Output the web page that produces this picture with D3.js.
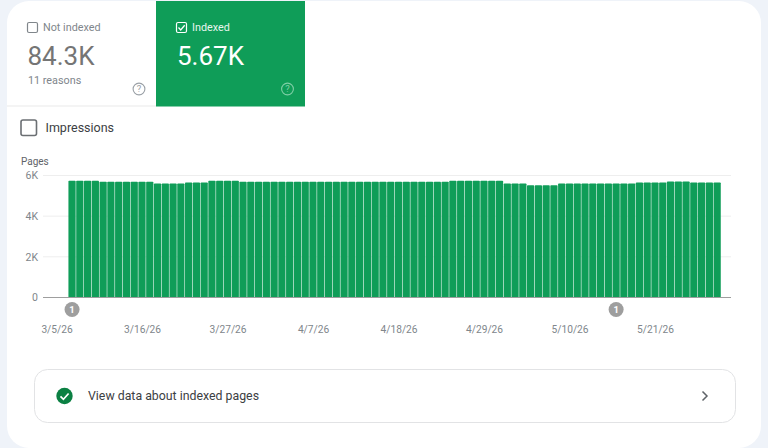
<!DOCTYPE html>
<html>
<head>
<meta charset="utf-8">
<style>
html,body{margin:0;padding:0;background:#eff3f9;}
svg{display:block;font-family:Roboto,sans-serif;}
</style>
<script src="https://cdnjs.cloudflare.com/ajax/libs/d3/7.8.5/d3.min.js"></script>
</head>
<body>
<svg id="chart" width="768" height="448"></svg>
<script>
// Daily indexed page counts, in thousands, starting 3/5/26
const startDate = "2026-03-05";
const indexedPages = [
  5.74,5.74,5.74,5.74,
  5.69,5.69,5.69,5.69,5.69,5.69,5.69,
  5.61,5.61,5.61,5.61,
  5.66,5.66,5.66,
  5.74,5.74,5.74,5.74,
  5.69,5.69,5.69,5.69,5.69,5.69,5.69,5.69,5.69,5.69,5.69,5.69,5.69,5.69,
  5.69,5.69,5.69,5.69,5.69,5.69,5.69,5.69,5.69,5.69,5.69,5.69,5.69,
  5.74,5.74,5.74,5.74,5.74,5.74,5.74,
  5.61,5.61,5.61,
  5.52,5.52,5.52,5.52,
  5.61,5.61,5.61,5.61,5.61,5.61,5.61,5.61,5.61,5.61,
  5.66,5.66,5.66,5.66,
  5.71,5.71,5.71,
  5.66,5.66,5.66,5.66
];
const yTickValues = [0, 2, 4, 6];
const xTickLabels = ["3/5/26","3/16/26","3/27/26","4/7/26","4/18/26","4/29/26","5/10/26","5/21/26"];
const annotationLabels = ["3/5/26","5/14/26"];

const fmt = d3.timeFormat("%-m/%-d/%y");
const first = d3.timeParse("%Y-%m-%d")(startDate);
const days = indexedPages.map((_, i) => fmt(d3.timeDay.offset(first, i)));

const svg = d3.select("#chart");
const green = "#0f9d58";

// Card and tabs
svg.append("rect").attr("x",7).attr("y",1).attr("width",754).attr("height",447).attr("rx",22).attr("fill","#fff");
svg.append("line").attr("x1",7).attr("x2",156).attr("y1",106).attr("y2",106).attr("stroke","#f0f0f0").attr("stroke-width",1.5);
svg.append("rect").attr("x",156).attr("y",1).attr("width",149).attr("height",105.5).attr("fill",green);

function text(x, y, s, size, fill, extra) {
  const t = svg.append("text").attr("x",x).attr("y",y).attr("font-size",size).attr("fill",fill).text(s);
  if (extra) extra(t);
  return t;
}
function helpIcon(cx, cy, color) {
  svg.append("circle").attr("cx",cx).attr("cy",cy).attr("r",5.9).attr("fill","none").attr("stroke",color).attr("stroke-width",1.1);
  text(cx, cy+3.4, "?", 9.5, color, t => t.attr("text-anchor","middle"));
}

svg.append("rect").attr("x",27.5).attr("y",22.5).attr("width",10).attr("height",10).attr("rx",1.5).attr("fill","none").attr("stroke","#80868b").attr("stroke-width",1.2);
text(43, 31, "Not indexed", 10.8, "#80868b");
text(27.5, 65, "84.3K", 26, "#757575");
text(28, 84, "11 reasons", 10.8, "#80868b");
helpIcon(139, 89, "#9aa0a6");

svg.append("rect").attr("x",176.5).attr("y",22.5).attr("width",10).attr("height",10).attr("rx",1.5).attr("fill",green).attr("stroke","#fff").attr("stroke-width",1.2);
svg.append("path").attr("d","M178.5 27.5l2.2 2.4 4-4.6").attr("fill","none").attr("stroke","#fff").attr("stroke-width",1.3);
text(192, 31, "Indexed", 10.8, "#e8f5ee");
text(177, 65, "5.67K", 26, "#fff");
helpIcon(287.5, 89, "#7fcfa6");

svg.append("rect").attr("x",21).attr("y",120).attr("width",15.5).attr("height",15.5).attr("rx",2).attr("fill","none").attr("stroke","#6b6f73").attr("stroke-width",1.6);
text(45.5, 132, "Impressions", 12.5, "#3c4043");

text(21, 165, "Pages", 10, "#5f6368");

// Scales
const x = d3.scaleBand().domain(days).range([68.2, 721]).paddingInner(0.07).paddingOuter(0.03);
const y = d3.scaleLinear().domain([0, 6]).range([297.5, 175.5]);

// Horizontal grid and value axis
const yAxis = svg.append("g").attr("transform","translate(43,0)")
  .call(d3.axisLeft(y).tickValues(yTickValues).tickSize(0).tickPadding(5).tickFormat(d => d === 0 ? "0" : d + "K"));
yAxis.select(".domain").remove();
yAxis.selectAll("text").attr("font-size",10.5).attr("font-family","Roboto,sans-serif").attr("fill","#80868b");

svg.append("g").selectAll("line").data(yTickValues.filter(d => d > 0)).join("line")
  .attr("x1",43).attr("x2",731).attr("y1",d => y(d)).attr("y2",d => y(d))
  .attr("stroke","#eeeeee").attr("stroke-width",1);

// Bars
svg.append("g").selectAll("rect").data(indexedPages).join("rect")
  .attr("x",(d,i) => x(days[i]))
  .attr("y",d => y(d))
  .attr("width",x.bandwidth())
  .attr("height",d => y(0) - y(d))
  .attr("rx",0.8)
  .attr("fill",green);

// Baseline
svg.append("line").attr("x1",43).attr("x2",731).attr("y1",y(0)).attr("y2",y(0)).attr("stroke","#9e9e9e").attr("stroke-width",1);

// Date axis; labels sit left of the band they name
const xAxis = svg.append("g").attr("transform",`translate(-15,${y(0)+22})`)
  .call(d3.axisBottom(x).tickValues(xTickLabels).tickSize(0).tickPadding(6));
xAxis.select(".domain").remove();
xAxis.selectAll("text").attr("font-size",10.2).attr("font-family","Roboto,sans-serif").attr("fill","#80868b");

// Annotation markers
const marks = svg.append("g").selectAll("g").data(annotationLabels).join("g")
  .attr("transform",d => `translate(${x(d)+x.bandwidth()/2},309.5)`);
marks.append("circle").attr("r",7.5).attr("fill","#9e9e9e");
marks.append("text").attr("text-anchor","middle").attr("y",3.3).attr("font-size",9.5).attr("font-weight",700).attr("fill","#fff").text("1");

// Link card under the chart
svg.append("rect").attr("x",34.5).attr("y",369.5).attr("width",701).attr("height",53).attr("rx",13).attr("fill","#fff").attr("stroke","#e2e3e5").attr("stroke-width",1);
svg.append("circle").attr("cx",64.5).attr("cy",396).attr("r",8.2).attr("fill","#0b8043");
svg.append("path").attr("d","M60.5 396.3l2.9 3 5.2-5.8").attr("fill","none").attr("stroke","#fff").attr("stroke-width",1.7);
text(88, 400, "View data about indexed pages", 13, "#3c4043", t => t.attr("textLength",171).attr("lengthAdjust","spacingAndGlyphs"));
svg.append("path").attr("d","M702.5 391.5l4.5 4.5-4.5 4.5").attr("fill","none").attr("stroke","#5f6368").attr("stroke-width",1.5);
</script>
</body>
</html>
